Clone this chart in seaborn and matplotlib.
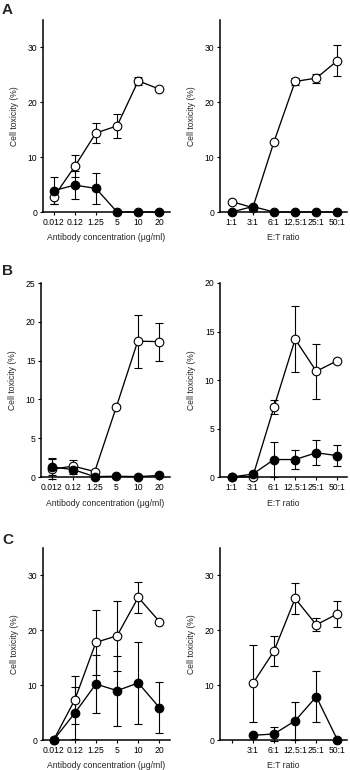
import numpy as np
import matplotlib
matplotlib.use("Agg")
import matplotlib.pyplot as plt
import seaborn as sns

nan = np.nan

# x categories
ab_conc = ["0.012", "0.12", "1.25", "5", "10", "20"]
et_ratio = ["1:1", "3:1", "6:1", "12.5:1", "25:1", "50:1"]

# panel A
a_ab_open = [2.7, 8.3, 14.4, 15.7, 23.9, 22.4]
a_ab_open_err = [1.2, 2.0, 1.8, 2.2, 0.8, nan]
a_ab_filled = [3.9, 4.9, 4.3, 0.0, 0.0, 0.0]
a_ab_filled_err = [2.4, 2.5, 2.8, nan, nan, nan]

a_et_open = [1.9, 0.8, 12.8, 23.8, 24.4, 27.6]
a_et_open_err = [nan, nan, nan, 0.6, 0.8, 2.8]
a_et_filled = [0.0, 1.0, 0.0, 0.0, 0.0, 0.0]
a_et_filled_err = [nan, nan, nan, nan, nan, nan]

# panel B
b_ab_open = [1.0, 1.4, 0.7, 9.0, 17.5, 17.45]
b_ab_open_err = [1.3, 0.8, nan, nan, 3.4, 2.45]
b_ab_filled = [1.3, 0.95, 0.05, 0.1, 0.05, 0.2]
b_ab_filled_err = [1.1, 0.5, nan, nan, nan, nan]

b_et_open = [0.0, 0.05, 7.2, 14.2, 10.9, 12.0]
b_et_open_err = [nan, nan, 0.7, 3.4, 2.85, nan]
b_et_filled = [0.0, 0.3, 1.8, 1.8, 2.5, 2.2]
b_et_filled_err = [nan, nan, 1.85, 0.95, 1.3, 1.1]

# panel C
c_ab_open = [0.0, 7.3, 17.8, 19.0, 26.0, 21.6]
c_ab_open_err = [nan, 4.4, 5.9, 6.4, 2.8, nan]
c_ab_filled = [0.0, 4.9, 10.2, 9.0, 10.4, 5.9]
c_ab_filled_err = [nan, 4.7, 5.3, 6.4, 7.4, 4.7]

c_et_open = [nan, 10.3, 16.2, 25.8, 21.0, 23.0]
c_et_open_err = [nan, 7.0, 2.7, 2.8, 1.2, 2.4]
c_et_filled = [nan, 0.85, 1.1, 3.5, 7.9, 0.0]
c_et_filled_err = [nan, nan, 1.2, 3.5, 4.6, nan]

FS = 6.2


def draw_series(ax, cats, vals, errs, face):
    pos = np.arange(len(cats))
    ax.errorbar(pos, vals, yerr=errs, fmt="none", ecolor="black",
                elinewidth=0.8, capsize=2.6, capthick=0.8, zorder=1, clip_on=False)
    sns.pointplot(x=cats, y=vals, order=cats, color="black", markers="o",
                  linestyles="-", errorbar=None, linewidth=0.95, markersize=6.2,
                  markeredgewidth=0.8, markerfacecolor=face, clip_on=False,
                  zorder=3, ax=ax)


def style_axis(ax, cats, ticklabels, ymax, yticks, xlabel, xlim):
    ax.set_ylim(0, ymax)
    ax.set_yticks(yticks)
    ax.set_xlim(*xlim)
    ax.set_xticks(np.arange(len(cats)))
    ax.set_xticklabels(ticklabels)
    ax.set_xlabel(xlabel, fontsize=FS, labelpad=5)
    ax.set_ylabel("Cell toxicity (%)", fontsize=FS, labelpad=6)
    ax.tick_params(direction="out", length=2.5, width=0.8, labelsize=FS,
                   pad=1.5, colors="black")
    for side in ["left", "bottom"]:
        ax.spines[side].set_linewidth(1.1)
        ax.spines[side].set_color("black")
    sns.despine(ax=ax)


def main():
    sns.set_style("ticks")
    plt.rcParams["font.family"] = ["Liberation Sans", "DejaVu Sans"]

    fig = plt.figure(figsize=(3.5, 7.7), dpi=100)
    W, H = 350.0, 770.0

    def add(x0, x1, y0, y1):
        return fig.add_axes([x0 / W, 1 - y1 / H, (x1 - x0) / W, (y1 - y0) / H])

    ab_label = "Antibody concentration (\u03bcg/ml)"
    et_label = "E:T ratio"
    left_lim = (-0.5, 5.5)
    right_lim = (-0.55, 5.45)

    # A
    ax = add(43, 170, 20, 212)
    draw_series(ax, ab_conc, a_ab_open, a_ab_open_err, "white")
    draw_series(ax, ab_conc, a_ab_filled, a_ab_filled_err, "black")
    style_axis(ax, ab_conc, ab_conc, 35, [0, 10, 20, 30], ab_label, left_lim)

    ax = add(220, 347, 20, 212)
    draw_series(ax, et_ratio, a_et_open, a_et_open_err, "white")
    draw_series(ax, et_ratio, a_et_filled, a_et_filled_err, "black")
    style_axis(ax, et_ratio, et_ratio, 35, [0, 10, 20, 30], et_label, right_lim)

    # B
    ax = add(41, 170, 283, 477)
    draw_series(ax, ab_conc, b_ab_open, b_ab_open_err, "white")
    draw_series(ax, ab_conc, b_ab_filled, b_ab_filled_err, "black")
    style_axis(ax, ab_conc, ab_conc, 25, [0, 5, 10, 15, 20, 25], ab_label, left_lim)

    ax = add(220, 347, 283, 477)
    draw_series(ax, et_ratio, b_et_open, b_et_open_err, "white")
    draw_series(ax, et_ratio, b_et_filled, b_et_filled_err, "black")
    style_axis(ax, et_ratio, et_ratio, 20, [0, 5, 10, 15, 20], et_label, right_lim)

    # C
    ax = add(43, 170, 548, 740)
    draw_series(ax, ab_conc, c_ab_open, c_ab_open_err, "white")
    draw_series(ax, ab_conc, c_ab_filled, c_ab_filled_err, "black")
    style_axis(ax, ab_conc, ab_conc, 35, [0, 10, 20, 30], ab_label, left_lim)

    ax = add(220, 347, 548, 740)
    draw_series(ax, et_ratio, c_et_open, c_et_open_err, "white")
    draw_series(ax, et_ratio, c_et_filled, c_et_filled_err, "black")
    style_axis(ax, et_ratio, [""] + et_ratio[1:], 35, [0, 10, 20, 30], et_label, right_lim)

    for letter, y in [("A", 3), ("B", 264), ("C", 533)]:
        fig.text(2 / W, 1 - y / H, letter, fontsize=11, fontweight="bold",
                 va="top", ha="left")

    fig.savefig("out.png", dpi=100)
    plt.close(fig)


if __name__ == "__main__":
    main()
